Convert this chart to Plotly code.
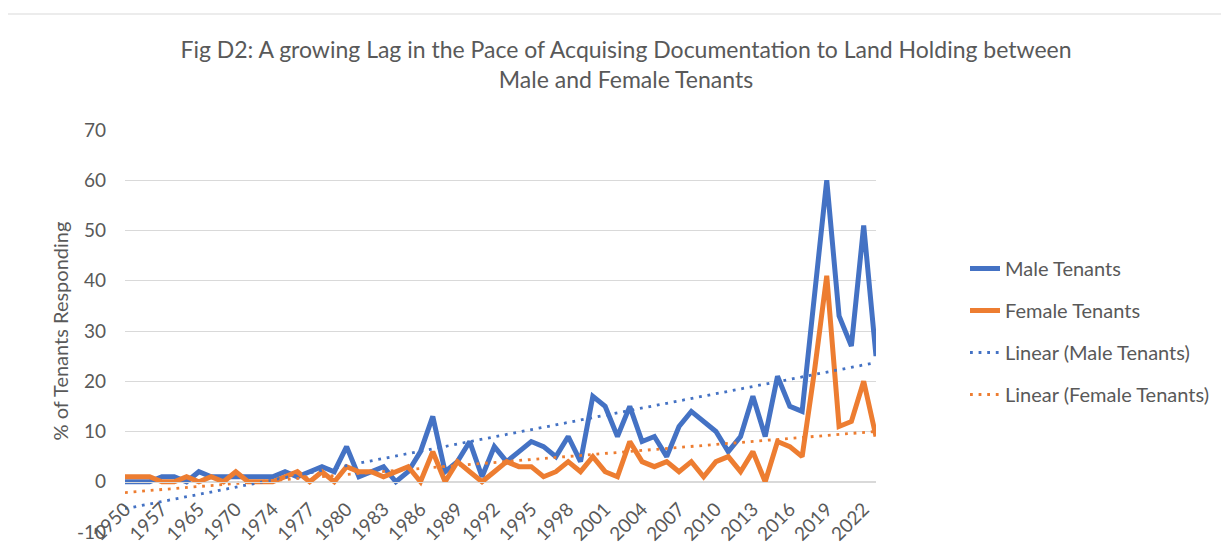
import numpy as np
import plotly.graph_objects as go

years = [1950, 1952, 1955, 1957, 1960, 1962, 1965, 1967, 1968, 1970, 1972, 1973,
         1974, 1975, 1976, 1977, 1978, 1979, 1980, 1981, 1982, 1983, 1984, 1985,
         1986, 1987, 1988, 1989, 1990, 1991, 1992, 1993, 1994, 1995, 1996, 1997,
         1998, 1999, 2000, 2001, 2002, 2003, 2004, 2005, 2006, 2007, 2008, 2009,
         2010, 2011, 2012, 2013, 2014, 2015, 2016, 2017, 2018, 2019, 2020, 2021,
         2022, 2023]
male = [0, 0, 0, 1, 1, 0, 2, 1, 1, 1, 1, 1,
        1, 2, 1, 2, 3, 2, 7, 1, 2, 3, 0, 2,
        6, 13, 2, 4, 8, 1, 7, 4, 6, 8, 7, 5,
        9, 4, 17, 15, 9, 15, 8, 9, 5, 11, 14, 12,
        10, 6, 9, 17, 9, 21, 15, 14, 38, 60, 33, 27,
        51, 25]
female = [1, 1, 1, 0, 0, 1, 0, 1, 0, 2, 0, 0,
          0, 1, 2, 0, 2, 0, 3, 2, 2, 1, 2, 3,
          0, 6, 0, 4, 2, 0, 2, 4, 3, 3, 1, 2,
          4, 2, 5, 2, 1, 8, 4, 3, 4, 2, 4, 1,
          4, 5, 2, 6, 0, 8, 7, 5, 22, 41, 11, 12,
          20, 9]
y_ticks = [-10, 0, 10, 20, 30, 40, 50, 60, 70]

cats = [str(y) for y in years]
tick_cats = cats[::3]

BLUE = "#4472C4"
ORANGE = "#ED7D31"
GREY = "#595959"
GRID = "#D9D9D9"
FONT = "Lato"

idx = np.arange(1, len(cats) + 1)
m_fit = np.polyval(np.polyfit(idx, male, 1), idx)
f_fit = np.polyval(np.polyfit(idx, female, 1), idx)

fig = go.Figure()
fig.add_trace(go.Scatter(x=cats, y=male, mode="lines", name="Male Tenants",
                         line=dict(color=BLUE, width=5), legendgroup="a"))
fig.add_trace(go.Scatter(x=cats, y=female, mode="lines", name="Female Tenants",
                         line=dict(color=ORANGE, width=5), legendgroup="b"))
fig.add_trace(go.Scatter(x=cats, y=m_fit, mode="lines", name="Linear (Male Tenants)",
                         line=dict(color=BLUE, width=2.8, dash="2.8px,5.8px"), legendgroup="c"))
fig.add_trace(go.Scatter(x=cats, y=f_fit, mode="lines", name="Linear (Female Tenants)",
                         line=dict(color=ORANGE, width=2.8, dash="2.8px,5.8px"), legendgroup="d"))

# page body has an 8px margin; work in window pixels and shift
OFF = 8
W, H = 1229 - OFF, 556 - OFF
PL, PR, PT, PB = 125, 876, 130, 532  # plot area in window pixels
L, R, T, B = PL - OFF, W - (PR - OFF), PT - OFF, H - (PB - OFF)
pw, ph = W - L - R, H - T - B


def px_x(x):
    return (x - OFF - L) / pw


def px_y(y):
    return (H - B - (y - OFF)) / ph


fig.update_layout(
    width=W, height=H,
    margin=dict(l=L, r=R, t=T, b=B, autoexpand=False),
    paper_bgcolor="white", plot_bgcolor="white",
    font=dict(family=FONT, color=GREY, size=19),
    title=dict(text="Fig D2: A growing Lag in the Pace of Acquising Documentation to Land Holding between<br>Male and Female Tenants",
               font=dict(family=FONT, size=23, color=GREY),
               x=(626 - OFF) / W, xanchor="center", y=1 - (58 - OFF) / H, yanchor="top"),
    xaxis=dict(type="category", categoryorder="array", categoryarray=cats,
               tickmode="array", tickvals=tick_cats, ticktext=tick_cats,
               tickangle=-45, showgrid=False, ticks="", anchor="free",
               position=10 / 80, showline=True, linecolor=GRID, linewidth=1,
               ticklabelstandoff=8,
               tickfont=dict(size=19, color=GREY), automargin=False),
    yaxis=dict(range=[-10, 70], tickmode="array", tickvals=y_ticks,
               ticktext=[str(v) for v in y_ticks],
               showgrid=True, gridcolor=GRID, gridwidth=1, zeroline=False,
               ticks="", ticklabelstandoff=18,
               tickfont=dict(size=19, color=GREY), automargin=False,
               title=dict(text="% of Tenants Responding", font=dict(size=20, color=GREY),
                          standoff=2)),
    legend=dict(x=px_x(965), y=px_y(249), xanchor="left", yanchor="top",
                font=dict(size=20, color=GREY), tracegroupgap=13,
                bgcolor="rgba(0,0,0,0)"),
    showlegend=True,
)

fig.add_shape(type="line", xref="paper", yref="paper",
              x0=px_x(OFF), x1=px_x(1229), y0=px_y(14), y1=px_y(14),
              line=dict(color=GRID, width=1))

fig.write_html("out.html")
